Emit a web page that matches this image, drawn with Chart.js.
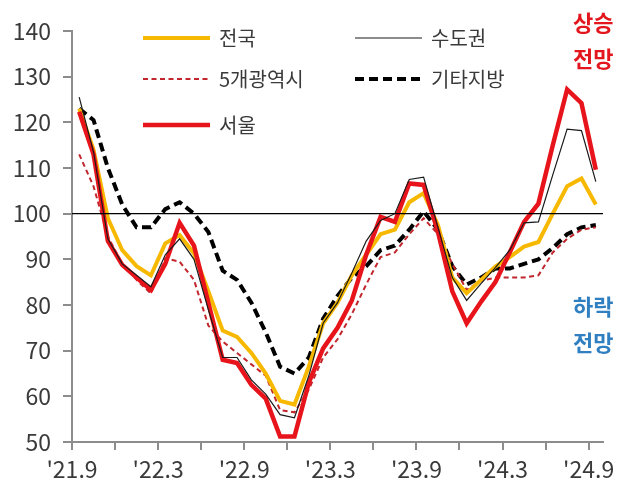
<!DOCTYPE html>
<html>
<head>
<meta charset="utf-8">
<script src="https://cdn.jsdelivr.net/npm/chart.js@4/dist/chart.umd.min.js"></script>
<style>
  html, body { margin: 0; padding: 0; background: #fff; }
  #wrap { position: relative; width: 637px; height: 498px; font-family: "Noto Sans CJK KR", sans-serif; }
  #trendChart { position: absolute; left: 0; top: 0; }
  .key { position: absolute; display: flex; align-items: center; font-size: 20px; color: #3a3a3a; line-height: 1; }
  .key svg { margin-right: 9px; }
  .note { position: absolute; font-weight: bold; font-size: 22px; line-height: 36px; text-align: center; }
</style>
</head>
<body>
<div id="wrap">
  <canvas id="trendChart" width="637" height="498"></canvas>
  <div id="legend"></div>
  <div class="note" style="left:573px;top:3px;color:#e3161d">상승<br>전망</div>
  <div class="note" style="left:573px;top:287px;color:#2f7fc1">하락<br>전망</div>
</div>
<script>
// monthly, '21.9 ~ '24.9
var tickLabels = ["'21.9", "'22.3", "'22.9", "'23.3", "'23.9", "'24.3", "'24.9"];
var months = [];
for (var y = 21; y <= 24; y++) {
    for (var m = 1; m <= 12; m++) {
        if ((y === 21 && m < 9) || (y === 24 && m > 9)) continue;
        months.push("'" + y + "." + m);
    }
}

var national = [123, 114, 99, 92, 88.5, 86.5, 93.5, 95.3, 91.3, 83, 74.4, 73, 69.5, 65, 59, 58.2, 66.5, 76, 80.5, 86.5, 91, 95.5, 96.5, 102.5, 104.5, 97.5, 86, 82.6, 85.5, 88.4, 90.5, 92.8, 93.8, 100, 106, 107.7, 102];
var capital = [125.5, 113.5, 94.5, 89, 86.5, 84, 91, 94.5, 90, 79, 68.5, 68.5, 63.6, 60.5, 56, 55.3, 64.5, 76, 80.5, 87, 94, 98.5, 100, 107.5, 108, 97, 86, 81, 84.7, 88.2, 92, 98, 98.2, 108.5, 118.5, 118.2, 107];
var metro5 = [113, 106, 95, 89, 85.5, 82.5, 90.2, 89.5, 85.5, 75.5, 72, 69.5, 67, 64.5, 57, 56.5, 61.5, 68.5, 72.5, 78, 84.5, 90.5, 91.5, 95.5, 99, 95.5, 89, 83.3, 85.3, 86, 86, 86, 86.5, 91.5, 94.5, 96.5, 97];
var otherRegions = [123, 120.5, 110, 102, 97, 97, 101, 102.5, 100, 96, 87.5, 85.5, 80.5, 74, 66.5, 65, 68.5, 77, 82, 86, 88.5, 92, 93, 96.5, 100.5, 96.5, 88.5, 84.5, 86, 88, 88, 89, 90, 92.5, 95.5, 97, 97.5];
var seoul = [122.3, 113, 94, 88.8, 86, 83.3, 89, 98, 93, 80.5, 68, 67.3, 62.5, 59.5, 51.2, 51.2, 63, 70.5, 75, 81, 91, 99.3, 98.2, 106.6, 106.3, 96, 83, 76, 80.7, 85, 91.5, 98.2, 102.2, 115, 127.2, 124.2, 109.6];

function toPoints(arr) {
    return arr.map(function (v, i) { return { x: i, y: v }; });
}

var datasets = [
    { label: "전국", data: toPoints(national), borderColor: "#f7b900", borderWidth: 4, order: 2 },
    { label: "수도권", data: toPoints(capital), borderColor: "#1a1a1a", borderWidth: 1.2, order: 0 },
    { label: "5개광역시", data: toPoints(metro5), borderColor: "#c0262c", borderWidth: 2, borderDash: [5, 3.5], order: 3 },
    { label: "기타지방", data: toPoints(otherRegions), borderColor: "#000", borderWidth: 4, borderDash: [9, 5], order: 4 },
    { label: "서울", data: toPoints(seoul), borderColor: "#e8141b", borderWidth: 4.5, order: 1 },
];
datasets.forEach(function (d) {
    d.pointRadius = 0;
    d.tension = 0;
    d.fill = false;
    d.borderCapStyle = "butt";
});

// legend in two columns over the plot
var legendSlots = [[143, 38], [355, 38], [143, 79], [355, 79], [143, 125]];
var legendEl = document.getElementById("legend");
datasets.forEach(function (d, i) {
    var div = document.createElement("div");
    div.className = "key";
    div.style.left = legendSlots[i][0] + "px";
    div.style.top = (legendSlots[i][1] - 11) + "px";
    var dash = d.borderDash ? ' stroke-dasharray="' + d.borderDash.join(" ") + '"' : "";
    div.innerHTML = '<svg width="67" height="22"><line x1="0" y1="11" x2="67" y2="11" stroke="' + d.borderColor +
        '" stroke-width="' + d.borderWidth + '"' + dash + '/></svg><span>' + d.label + "</span>";
    legendEl.appendChild(div);
});

var baseLine = {
    id: "baseLine",
    afterDatasetsDraw: function (chart) {
        var ctx = chart.ctx, area = chart.chartArea;
        var yPix = chart.scales.y.getPixelForValue(100);
        ctx.save();
        ctx.strokeStyle = "#000";
        ctx.lineWidth = 1.2;
        ctx.beginPath();
        ctx.moveTo(area.left, yPix);
        ctx.lineTo(area.right, yPix);
        ctx.stroke();
        ctx.restore();
    }
};

var axisGray = "#8c8c8c";
var ctx = document.getElementById("trendChart").getContext("2d");
var myChart = new Chart(ctx, {
    type: "line",
    data: { datasets: datasets },
    options: {
        responsive: false,
        animation: false,
        layout: { padding: { top: 31, right: 34, left: 0, bottom: 0 } },
        plugins: { legend: { display: false }, tooltip: { enabled: false } },
        scales: {
            x: {
                type: "linear",
                min: -0.5,
                max: 36.5,
                afterBuildTicks: function (scale) {
                    var t = [];
                    for (var k = 0; k <= 12; k++) t.push({ value: -0.5 + 3 * k });
                    scale.ticks = t;
                },
                afterFit: function (scale) { scale.height = 56; },
                border: { color: axisGray, width: 2 },
                grid: { drawOnChartArea: false, color: axisGray, lineWidth: 2, tickLength: 8 },
                ticks: {
                    autoSkip: false,
                    maxRotation: 0,
                    padding: 5,
                    color: "#3a3a3a",
                    font: { family: "'Noto Sans CJK KR'", size: 23 },
                    callback: function (value, index) {
                        return index % 2 === 0 ? tickLabels[index / 2] : "";
                    }
                }
            },
            y: {
                min: 50,
                max: 140,
                afterFit: function (scale) { scale.width = 72; },
                border: { color: axisGray, width: 2 },
                grid: { drawOnChartArea: false, color: axisGray, lineWidth: 2, tickLength: 9 },
                ticks: {
                    stepSize: 10,
                    padding: 12,
                    color: "#3a3a3a",
                    font: { family: "'Noto Sans CJK KR'", size: 23 }
                }
            }
        }
    },
    plugins: [baseLine]
});
</script>
</body>
</html>
